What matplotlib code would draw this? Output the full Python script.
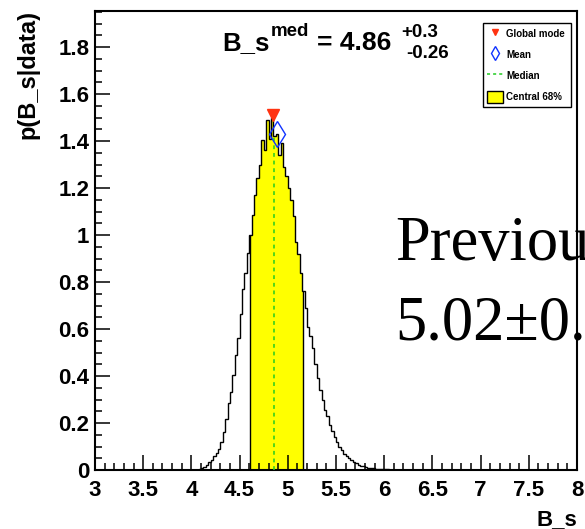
import matplotlib
matplotlib.use("Agg")
import matplotlib.pyplot as plt
import numpy as np
from matplotlib.lines import Line2D
from matplotlib.patches import Patch, Rectangle
from matplotlib.ticker import MultipleLocator, FuncFormatter

# posterior histogram p(B_s|data), bins of 0.025 starting at 4.0
bin_lo = 4.0
bin_width = 0.025
hist_values = [
    0.000, 0.000, 0.002, 0.004, 0.008, 0.014, 0.022, 0.032,
    0.042, 0.058, 0.072, 0.090, 0.118, 0.160, 0.215, 0.285,
    0.330, 0.405, 0.490, 0.560, 0.665, 0.770, 0.840, 0.925,
    1.000, 1.085, 1.170, 1.245, 1.300, 1.405, 1.360, 1.490,
    1.410, 1.500, 1.420, 1.430, 1.340, 1.390, 1.290, 1.250,
    1.200, 1.150, 1.080, 0.970, 0.920, 0.840, 0.760, 0.690,
    0.610, 0.570, 0.520, 0.450, 0.390, 0.340, 0.300, 0.255,
    0.230, 0.190, 0.165, 0.140, 0.118, 0.100, 0.085, 0.070,
    0.060, 0.052, 0.044, 0.036, 0.028, 0.022, 0.018, 0.015,
    0.012, 0.010, 0.009, 0.007, 0.006, 0.005, 0.004, 0.004,
    0.003, 0.004, 0.002, 0.002, 0.002, 0.001, 0.002, 0.001,
    0.001, 0.001, 0.000, 0.001, 0.001, 0.000, 0.001, 0.000,
    0.000, 0.001, 0.000, 0.000, 0.000, 0.000, 0.001, 0.000,
]
mode_x = 4.85
mean_x = 4.885
median_x = 4.86
central_lo, central_hi = 4.61, 5.16

title_main = "B_s"
title_sup = "med"
title_value = "= 4.86"
err_up = "+0.3"
err_down = "-0.26"
prev_text = ["Previous", "5.02\u00b10.07"]

hist_values = np.array(hist_values)
edges = bin_lo + bin_width * np.arange(len(hist_values) + 1)


def hist_at(x):
    i = int((x - bin_lo) // bin_width)
    return hist_values[i]


W, H = 585, 529
fig = plt.figure(figsize=(W / 100, H / 100), dpi=100)
plt.rcParams["font.family"] = ["Liberation Sans", "DejaVu Sans"]
plt.rcParams["font.weight"] = "bold"
ax = fig.add_axes([95 / W, 59 / H, 482 / W, 459.3 / H])
ax.patch.set_alpha(0)


def px(x, y):
    return x / W, 1 - y / H


# central 68% filled region
fill = ax.stairs(hist_values, edges, fill=True, color="#ffff00", lw=0, zorder=1)
fill.set_clip_path(Rectangle((central_lo, 0), central_hi - central_lo, 5,
                             transform=ax.transData))
ax.vlines([central_lo, central_hi], 0, [hist_at(central_lo), hist_at(central_hi)],
          color="black", lw=1.0, zorder=2)
ax.vlines(median_x, 0, hist_at(median_x), color="#22cc22", lw=1.1,
          linestyles=(0, (2.5, 2.5)), zorder=3)
ax.stairs(hist_values, edges, color="black", lw=1.0, zorder=4)
ax.plot(mode_x, hist_values.max() + 0.01, marker="v", color="#ff3311", ms=9,
        mec="#ff3311", ls="none", zorder=5)
ax.plot(mean_x, hist_at(mean_x), marker="d", mfc="none", mec="#1133ff", ms=13.5,
        mew=1.0, ls="none", zorder=5)

ax.set_xlim(3, 8)
ax.set_ylim(0, 1.955)
ax.xaxis.set_major_locator(MultipleLocator(0.5))
ax.xaxis.set_minor_locator(MultipleLocator(0.1))
ax.yaxis.set_major_locator(MultipleLocator(0.2))
ax.yaxis.set_minor_locator(MultipleLocator(0.05))
fmt = FuncFormatter(lambda v, p: "%g" % round(v, 3))
ax.xaxis.set_major_formatter(fmt)
ax.yaxis.set_major_formatter(fmt)
ax.tick_params(which="both", direction="in", width=1.1, labelsize=16)
ax.tick_params(which="major", length=11)
ax.tick_params(which="minor", length=5)
ax.tick_params(axis="x", pad=7)
ax.tick_params(axis="y", pad=4)
for lab in ax.get_xticklabels() + ax.get_yticklabels():
    lab.set_fontweight("bold")
for s in ax.spines.values():
    s.set_linewidth(1.5)

# axis titles
fig.text(*px(28, 10), "p(B_s|data)", rotation=90, ha="center", va="top",
         fontsize=17, fontweight="bold")
fig.text(*px(577, 525), "B_s", ha="right", va="baseline", fontsize=16,
         fontweight="bold")

# result header
fig.text(*px(222, 50), title_main, ha="left", va="baseline", fontsize=18.5, fontweight="bold")
fig.text(*px(271, 36), title_sup, ha="left", va="baseline", fontsize=13.5, fontweight="bold")
fig.text(*px(317, 50), title_value, ha="left", va="baseline", fontsize=19, fontweight="bold")
fig.text(*px(401, 37), err_up, ha="left", va="baseline", fontsize=13.5, fontweight="bold")
fig.text(*px(406, 58), err_down, ha="left", va="baseline", fontsize=13.5, fontweight="bold")

# previous measurement, runs off the canvas behind the frame
fig.text(*px(395, 260), prev_text[0], ha="left", va="baseline", fontsize=45,
         family="Liberation Serif", fontweight="normal", zorder=-1)
fig.text(*px(395, 340), prev_text[1], ha="left", va="baseline", fontsize=45,
         family="Liberation Serif", fontweight="normal", zorder=-1)

handles = [
    Line2D([], [], marker="v", color="#ff3311", ls="none", ms=5),
    Line2D([], [], marker="d", mfc="none", mec="#1133ff", ls="none", ms=7),
    Line2D([], [], color="#22cc22", ls=(0, (2, 2)), lw=1.1),
    Patch(facecolor="#ffff00", edgecolor="black", lw=1),
]
labels = ["Global mode", "Mean", "Median", "Central 68%"]
x0, y0 = px(483, 107)
x1, y1 = px(571, 23)
leg = fig.legend(handles, labels, loc="upper left",
                 bbox_to_anchor=(x0, y0, x1 - x0, y1 - y0), mode="expand",
                 frameon=True, fancybox=False, edgecolor="black",
                 framealpha=1, borderaxespad=0, handlelength=1.6,
                 handleheight=1.6, handletextpad=0.35, labelspacing=0.88,
                 borderpad=0.45, prop={"weight": "bold", "size": 7})
leg.get_frame().set_linewidth(1.0)

fig.savefig("out.png", dpi=100)
